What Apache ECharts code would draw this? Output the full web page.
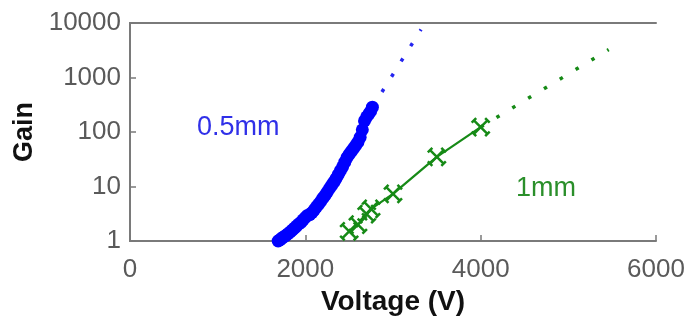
<!DOCTYPE html>
<html>
<head>
<meta charset="utf-8">
<script src="https://cdn.jsdelivr.net/npm/echarts@6/dist/echarts.min.js"></script>
<style>
html,body{margin:0;padding:0;background:#fff;}
#chart{width:692px;height:325px;}
</style>
</head>
<body>
<div id="chart"></div>
<script>
// ---- data ----
const blueV    = [1690,1710,1730,1750,1775,1800,1825,1850,1875,1900,1925,1950,1975,2000,2025,2050,2075,2100,2125,2150,2175,2200,2225,2250,2275,2300,2325,2350,2375,2400,2425,2450,2475,2500,2525,2550,2575,2600,2625,2650,2675,2700,2725,2745,2765];
const blueGain = [1.00,1.05,1.12,1.18,1.25,1.35,1.45,1.58,1.72,1.88,2.05,2.2,2.45,2.7,2.95,3.05,3.3,3.7,4.2,4.7,5.3,6.1,6.9,7.9,9.2,10.5,12,14,16.5,19.5,23,28,34,39,44,50,57,65,80,110,160,190,215,240,285];
const blueExtV    = [2765, 3320];
const blueExtGain = [285, 7600];
const greenV    = [2500, 2600, 2700, 2750, 3000, 3500, 4000];
const greenGain = [1.5, 2.0, 3.1, 3.9, 7.3, 35, 123];
const greenExtV    = [4000, 5460];
const greenExtGain = [123, 3250];
const xTickValues = [0, 2000, 4000, 6000];
const yTickValues = [1, 10, 100, 1000, 10000];
const seriesNames = ['0.5mm', '1mm'];

const zip = (a, b) => a.map((v, i) => [v, b[i]]);
const FONT = 'Liberation Sans';
const BLUE = '#0000ff';
const GREEN = '#168a16';
const AXIS = '#7a7a7a';

const chart = echarts.init(document.getElementById('chart'), null, {renderer: 'canvas'});
const xMin = xTickValues[0], xMax = xTickValues[xTickValues.length - 1];
const yMin = yTickValues[0], yMax = yTickValues[yTickValues.length - 1];
const tickIn = {show: true, inside: true, length: 6, lineStyle: {color: AXIS, width: 1.5}};

const option = {
  animation: false,
  backgroundColor: '#ffffff',
  grid: {left: 130, right: 36, top: 23, bottom: 84, containLabel: false},
  xAxis: [{
    type: 'value', min: xMin, max: xMax, interval: 2000,
    name: 'Voltage (V)', nameLocation: 'middle', nameGap: 42,
    nameTextStyle: {fontFamily: FONT, fontSize: 28, fontWeight: 'bold', color: '#111'},
    axisLine: {show: true, lineStyle: {color: AXIS, width: 2}},
    axisTick: tickIn,
    axisLabel: {fontFamily: FONT, fontSize: 26, color: '#5a5a5a', margin: 16, formatter: v => String(v)},
    splitLine: {show: false}
  }, {
    type: 'value', position: 'top', min: xMin, max: xMax, interval: 2000,
    axisLine: {show: true, lineStyle: {color: AXIS, width: 2}},
    axisTick: {show: false},
    axisLabel: {show: false}, splitLine: {show: false}
  }],
  yAxis: [{
    type: 'log', logBase: 10, min: yMin, max: yMax, position: 'left',
    name: 'Gain', nameLocation: 'middle', nameGap: 80, nameRotate: 90,
    nameTextStyle: {fontFamily: FONT, fontSize: 27, fontWeight: 'bold', color: '#111'},
    axisLine: {show: true, lineStyle: {color: AXIS, width: 2}},
    axisTick: tickIn,
    axisLabel: {fontFamily: FONT, fontSize: 26, color: '#5a5a5a', margin: 9, formatter: v => String(Math.round(v))},
    splitLine: {show: false}
  }, {
    type: 'log', logBase: 10, min: yMin, max: yMax, position: 'right',
    axisLine: {show: true, lineStyle: {color: AXIS, width: 2}},
    axisTick: {show: false},
    axisLabel: {show: false}, splitLine: {show: false}
  }],
  series: [{
    name: seriesNames[0] + ' ext', type: 'line', data: zip(blueExtV, blueExtGain),
    showSymbol: false, symbol: 'none',
    lineStyle: {color: '#2525f0', width: 3.5, type: [3.5, 14.5]}, z: 2
  }, {
    name: seriesNames[0], type: 'scatter', data: zip(blueV, blueGain),
    symbol: 'circle', symbolSize: 13,
    itemStyle: {color: BLUE, opacity: 1}, z: 3
  }, {
    name: seriesNames[1] + ' ext', type: 'line', data: zip(greenExtV, greenExtGain),
    showSymbol: false, symbol: 'none',
    lineStyle: {color: GREEN, width: 3.5, type: [3.5, 15]}, z: 2
  }, {
    name: seriesNames[1], type: 'line', data: zip(greenV, greenGain),
    symbol: 'path://M2,2L14,14M14,2L2,14M0,4L4,0M12,0L16,4M0,12L4,16M12,16L16,12',
    symbolSize: 18, showSymbol: true,
    itemStyle: {color: 'rgba(0,0,0,0)', borderColor: GREEN, borderWidth: 2.5},
    lineStyle: {color: GREEN, width: 2.2}, z: 3
  }],
  graphic: [{
    type: 'text', left: 197, top: 114,
    style: {text: seriesNames[0], font: '27px "Liberation Sans"', fill: '#3030e8'}
  }, {
    type: 'text', left: 516, top: 175,
    style: {text: seriesNames[1], font: '27px "Liberation Sans"', fill: '#2a8f2a'}
  }]
};
chart.setOption(option);
</script>
</body>
</html>
